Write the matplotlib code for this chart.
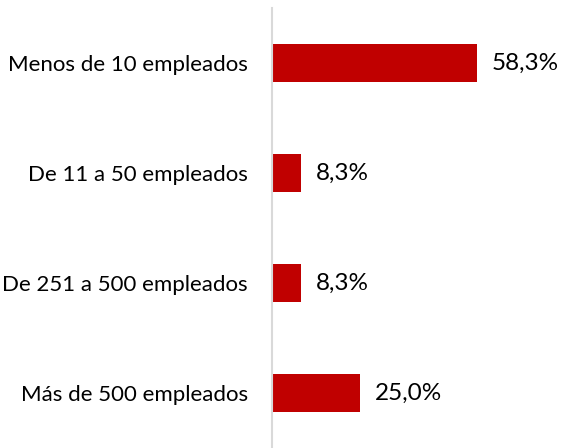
from matplotlib import pyplot as plt
import numpy as np

plt.rcParams['font.family'] = ['Lato', 'DejaVu Sans']

categorias = ['Menos de 10 empleados', 'De 11 a 50 empleados',
              'De 251 a 500 empleados', 'Más de 500 empleados']
valores = [58.3, 8.3, 8.3, 25.0]
etiquetas = ['58,3%', '8,3%', '8,3%', '25,0%']

fig = plt.figure(figsize=(5.61, 4.48), dpi=100)
ax = fig.add_axes([0.485, 0.0, 0.515, 0.982])

y = np.arange(len(categorias))
ax.barh(y, valores, height=0.35, color='#C00000', edgecolor='none')

for yi, v, lab in zip(y, valores, etiquetas):
    ax.text(v + 4.2, yi, lab, va='center', ha='left', fontsize=17.5, color='#000000')

ax.set_yticks(y)
ax.set_yticklabels(categorias, fontsize=16)
ax.tick_params(axis='y', length=0, pad=17.5)
ax.set_xticks([])
ax.set_xlim(0, 82.2)
ax.set_ylim(3.5, -0.5)

for s in ['top', 'right', 'bottom']:
    ax.spines[s].set_visible(False)
ax.spines['left'].set_color('#D9D9D9')
ax.spines['left'].set_linewidth(1.5)

fig.savefig('out.png', dpi=100)
